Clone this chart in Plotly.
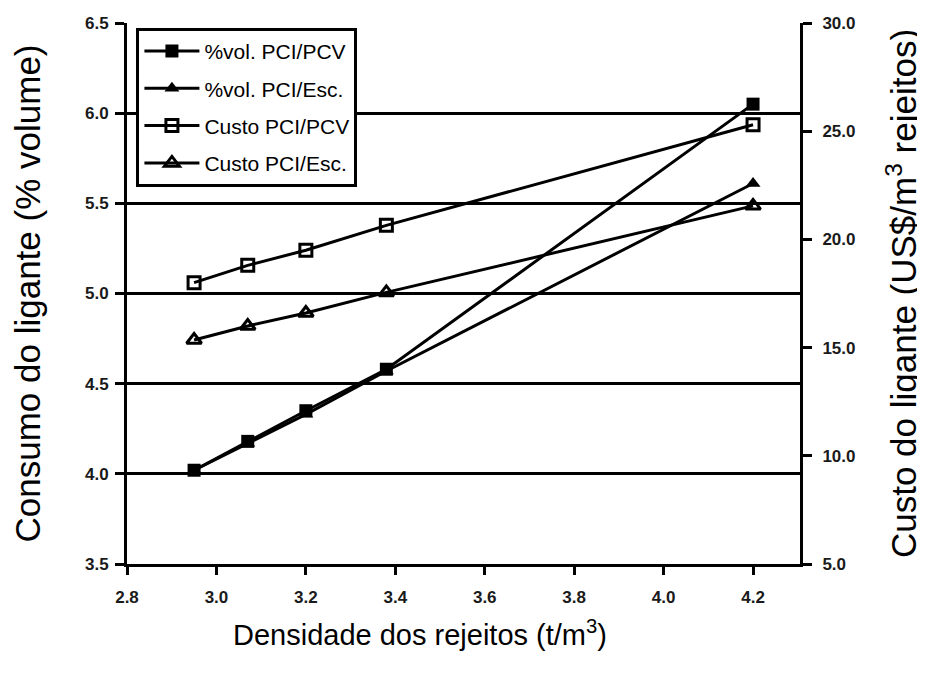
import plotly.graph_objects as go

densidade = [2.95, 3.07, 3.20, 3.38, 4.20]
vol_pci_pcv = [4.02, 4.18, 4.35, 4.58, 6.05]
vol_pci_esc = [4.02, 4.17, 4.33, 4.57, 5.61]
custo_pci_pcv = [18.0, 18.8, 19.5, 20.65, 25.3]
custo_pci_esc = [15.35, 16.0, 16.6, 17.55, 21.55]

x_ticks = [2.8, 3.0, 3.2, 3.4, 3.6, 3.8, 4.0, 4.2]
y_left_ticks = [3.5, 4.0, 4.5, 5.0, 5.5, 6.0, 6.5]
y_right_ticks = [5.0, 10.0, 15.0, 20.0, 25.0, 30.0]

x_title = "Densidade dos rejeitos (t/m<sup>3</sup>)"
y_title = "Consumo do ligante (% volume)"
y2_title = "Custo do ligante (US$/m<sup>3</sup> rejeitos)"

FONT = "Liberation Sans, Arial, sans-serif"
line = dict(color="black", width=3)

fig = go.Figure()
fig.add_trace(go.Scatter(x=densidade, y=vol_pci_pcv, name="%vol. PCI/PCV", mode="lines+markers",
                         line=line, marker=dict(symbol="square", size=13, color="black"),
                         legendgroup="a"))
fig.add_trace(go.Scatter(x=densidade, y=vol_pci_esc, name="%vol. PCI/Esc.", mode="lines+markers",
                         line=line, marker=dict(symbol="triangle-up", size=13, color="black"),
                         legendgroup="b"))
fig.add_trace(go.Scatter(x=densidade, y=custo_pci_pcv, name="Custo PCI/PCV", mode="lines+markers",
                         line=line, yaxis="y2",
                         marker=dict(symbol="square-open", size=12, color="black", line=dict(width=3)),
                         legendgroup="c"))
fig.add_trace(go.Scatter(x=densidade, y=custo_pci_esc, name="Custo PCI/Esc.", mode="lines+markers",
                         line=line, yaxis="y2",
                         marker=dict(symbol="triangle-up-open", size=13, color="black", line=dict(width=3)),
                         legendgroup="d"))

tickfont = dict(family=FONT, size=17, color="#1a1a1a", weight="bold")

fig.update_layout(
    width=917, height=666,
    margin=dict(l=119, r=125, t=15, b=110),
    paper_bgcolor="white", plot_bgcolor="white",
    font=dict(family=FONT, color="black"),
    showlegend=True,
    legend=dict(x=0.014, y=0.991, xanchor="left", yanchor="top",
                bgcolor="white", bordercolor="black", borderwidth=3,
                font=dict(family=FONT, size=21, color="black"),
                tracegroupgap=7, itemwidth=55),
    xaxis=dict(range=[2.8, 4.305], tickvals=x_ticks, ticktext=[f"{v:.1f}" for v in x_ticks],
               showgrid=False, zeroline=False, showline=True, linecolor="black", linewidth=3,
               ticks="outside", ticklen=8, tickwidth=3, tickcolor="black",
               tickfont=tickfont, automargin=False, ticklabelstandoff=8),
    yaxis=dict(range=[3.5, 6.5], tickvals=y_left_ticks, ticktext=[f"{v:.1f}" for v in y_left_ticks],
               showgrid=True, gridcolor="black", gridwidth=3, zeroline=False,
               showline=True, linecolor="black", linewidth=3,
               ticks="outside", ticklen=9, tickwidth=3, tickcolor="black",
               tickfont=tickfont, automargin=False, ticklabelstandoff=3,
               title=dict(text=y_title,
                          font=dict(family=FONT, size=35, color="black"), standoff=37)),
    yaxis2=dict(range=[5, 30], tickvals=y_right_ticks, ticktext=[f"{v:.1f}" for v in y_right_ticks],
                overlaying="y", side="right", showgrid=False, zeroline=False,
                showline=True, linecolor="black", linewidth=3,
                ticks="outside", ticklen=9, tickwidth=3, tickcolor="black",
                tickfont=tickfont, automargin=False, ticklabelstandoff=7,
                title=dict(text=y2_title,
                           font=dict(family=FONT, size=35, color="black"), standoff=38)),
    annotations=[dict(text=x_title, xref="paper", yref="paper", x=0.435, y=-0.1275,
                      xanchor="center", yanchor="middle", showarrow=False,
                      font=dict(family=FONT, size=29, color="black"))],
)

fig.write_html("out.html")
